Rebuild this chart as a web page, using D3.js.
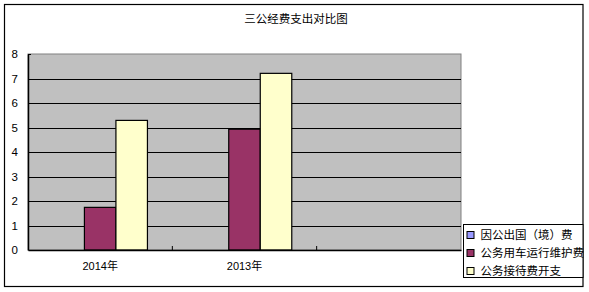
<!DOCTYPE html>
<html><head><meta charset="utf-8">
<script src="https://cdn.jsdelivr.net/npm/d3@7/dist/d3.min.js"></script>
<style>body{margin:0;background:#fff}svg text{font-family:"Liberation Sans","Noto Sans CJK SC",sans-serif}</style>
</head><body><svg id="c" width="589" height="292"></svg>
<script>
const title = "三公经费支出对比图";
const categories = ["2014年", "2013年", ""];
const seriesNames = ["因公出国（境）费", "公务用车运行维护费", "公务接待费开支"];
const seriesColors = ["#9999ff", "#993366", "#ffffcc"];
const values = [
  [0, 1.74, 5.29],
  [0, 4.93, 7.21],
  [null, null, null]
];
const yTicks = [0, 1, 2, 3, 4, 5, 6, 7, 8];

const svg = d3.select("#c");
const L = 28, R = 461, T = 54, B = 250;

svg.append("rect").attr("x", 4.5).attr("y", 4.5).attr("width", 578.5).attr("height", 282)
  .attr("fill", "#fff").attr("stroke", "#000").attr("stroke-width", 1.2);

svg.append("text").attr("x", 296).attr("y", 23).attr("text-anchor", "middle")
  .attr("font-size", 11.5).style("font-family", "'Noto Sans CJK SC',sans-serif").text(title);

const x0 = d3.scaleBand().domain(d3.range(categories.length)).range([L, R]).paddingInner(0).paddingOuter(0);
const x1 = d3.scaleBand().domain(d3.range(seriesNames.length)).range([0, x0.bandwidth()]).paddingInner(0).paddingOuter(0.79);
const y = d3.scaleLinear().domain([0, 8]).range([B, T]);

svg.append("rect").attr("x", L).attr("y", T).attr("width", R - L).attr("height", B - T)
  .attr("fill", "#c0c0c0").attr("stroke", "#808080").attr("stroke-width", 1);

svg.append("g").selectAll("line").data(yTicks.filter(d => d > 0 && d < 8)).join("line")
  .attr("x1", L).attr("x2", R).attr("y1", d => Math.round(y(d)) + 0.5).attr("y2", d => Math.round(y(d)) + 0.5)
  .attr("stroke", "#000").attr("stroke-width", 1);

const groups = svg.append("g").selectAll("g").data(values).join("g")
  .attr("transform", (d, i) => `translate(${x0(i)},0)`);
groups.selectAll("rect").data(d => d.map((v, j) => ({v, j})).filter(e => e.v)).join("rect")
  .attr("x", e => x1(e.j)).attr("width", x1.bandwidth())
  .attr("y", e => y(e.v)).attr("height", e => B - y(e.v))
  .attr("fill", e => seriesColors[e.j]).attr("stroke", "#000").attr("stroke-width", 1.2);

// axes
const xAxis = d3.axisBottom(x0).tickSize(0).tickFormat(i => categories[i]);
const gx = svg.append("g").attr("transform", `translate(0,${B})`).call(xAxis);
gx.select(".domain").attr("stroke", "#000").attr("stroke-width", 1.5);
gx.selectAll("text").attr("font-size", 11).attr("dy", "1.55em").attr("fill", "#000");
gx.selectAll(".bnd").data(d3.range(1, categories.length)).join("line").attr("class", "bnd")
  .attr("x1", i => x0(i)).attr("x2", i => x0(i)).attr("y1", 0).attr("y2", -4).attr("stroke", "#000");

const yAxis = d3.axisLeft(y).tickValues(yTicks).tickSize(0).tickPadding(10);
const gy = svg.append("g").attr("transform", `translate(${L},0)`).call(yAxis);
gy.select(".domain").attr("stroke", "#000").attr("stroke-width", 1.5);
gy.selectAll("text").attr("font-size", 11.5).attr("fill", "#000");
svg.append("line").attr("x1", L).attr("x2", L + 3).attr("y1", T + 0.5).attr("y2", T + 0.5).attr("stroke", "#000");

// legend
const lg = svg.append("g");
lg.append("rect").attr("x", 463.5).attr("y", 224.5).attr("width", 119.5).attr("height", 53)
  .attr("fill", "#fff").attr("stroke", "#000").attr("stroke-width", 1);
const items = lg.selectAll("g").data(seriesNames).join("g")
  .attr("transform", (d, i) => `translate(467,${235 + i * 18})`);
items.append("rect").attr("x", 0).attr("y", -3.5).attr("width", 7).attr("height", 7)
  .attr("fill", (d, i) => seriesColors[i]).attr("stroke", "#000");
items.append("text").attr("x", 13.5).attr("y", 0).attr("dy", "0.35em").attr("font-size", 11.5)
  .style("font-family", "'Noto Sans CJK SC',sans-serif").text(d => d);
</script></body></html>
